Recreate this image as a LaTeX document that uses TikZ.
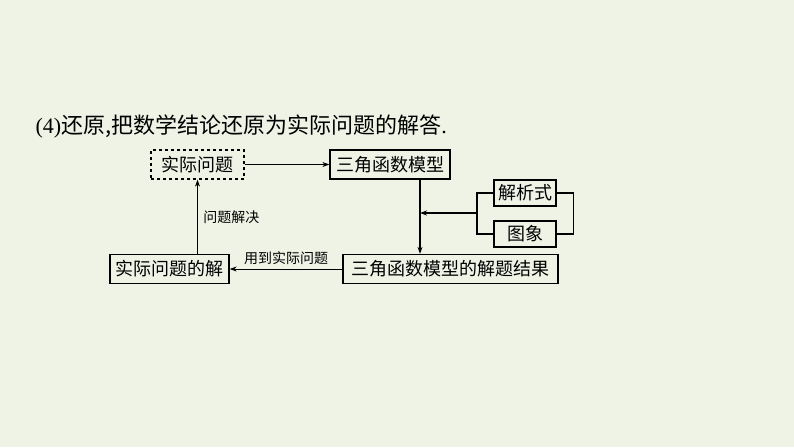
\documentclass[tikz,border=0pt]{standalone}
\usepackage{fontspec}
\newfontfamily\cjk{Noto Sans CJK SC}
\setmainfont{Liberation Serif}
\usetikzlibrary{arrows.meta}
\definecolor{bg}{HTML}{EEF3E6}
\begin{document}
\begin{tikzpicture}[x=1pt,y=-1pt,
  box/.style={draw,line width=1.3pt,minimum height=29pt,inner sep=0pt,font=\cjk\fontsize{18}{20}\selectfont},
  lbl/.style={font=\cjk\fontsize{14}{16}\selectfont},
  arr/.style={-{Stealth[length=7pt,width=5pt]},line width=1pt}]
\fill[bg] (0,0) rectangle (794,447);
\useasboundingbox (0,0) rectangle (794,447);
\node[anchor=west,font=\fontsize{22}{24}\selectfont] (t) at (32,127) {(4){\cjk 还原,把数学结论还原为实际问题的解答}.};
\node[box,dashed,minimum width=93pt] (a) at (197.5,164.5) {实际问题};
\node[box,minimum width=120pt] (b) at (390,164.5) {三角函数模型};
\node[box,minimum width=62pt,minimum height=26pt] (c) at (525,193) {解析式};
\node[box,minimum width=62pt,minimum height=26pt] (d) at (525,234) {图象};
\node[box,minimum width=215pt] (e) at (450.5,269) {三角函数模型的解题结果};
\node[box,minimum width=119pt] (f) at (169.5,269) {实际问题的解};
\coordinate (bx) at (477,213);
\coordinate (tx) at (420,213);
\draw[arr] (a) -- (b);
\draw[arr,line width=1.3pt] (b.south -| tx) -- (e.north -| tx);
\draw[line width=1.3pt] (c.west) -| (bx) |- (d.west);
\draw[line width=1.3pt] (c.east) -- ++(17,0) |- (d.east);
\draw[arr,line width=1.3pt] (bx) -- (tx);
\draw[arr] (e.west) -- node[lbl,above] {用到实际问题} (f.east);
\draw[arr] (f.north -| a) -- node[lbl,right,xshift=2pt] {问题解决} (a.south);
\end{tikzpicture}
\end{document}
